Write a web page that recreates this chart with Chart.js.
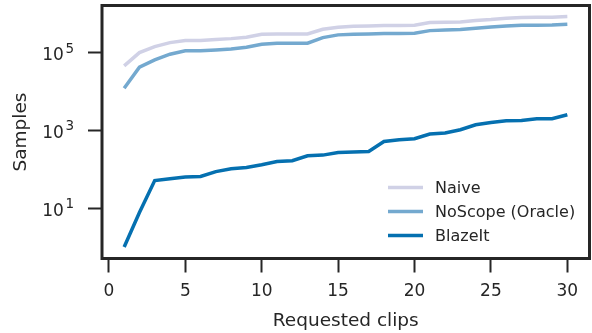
<!DOCTYPE html>
<html>
  <head>
    <title>Samples vs requested clips</title>
    <script src="https://cdn.jsdelivr.net/npm/chart.js"></script>
    <style>
      body {
        margin: 0;
        padding: 0;
        background: #ffffff;
      }
      #wrap {
        width: 592px;
        height: 333px;
      }
    </style>
  </head>
  <body>
    <div id="wrap"><canvas id="myChart"></canvas></div>
    <script>
      // values
      const clips = [1, 2, 3, 4, 5, 6, 7, 8, 9, 10, 11, 12, 13, 14, 15,
        16, 17, 18, 19, 20, 21, 22, 23, 24, 25, 26, 27, 28, 29, 30];
      const naive = [45500, 100000, 143000, 181000, 204000, 204000, 216000, 229000, 249000, 298000,
        303000, 303000, 303000, 400000, 451000, 479000, 487000, 496000, 496000, 507000,
        592000, 606000, 617000, 666000, 707000, 768000, 796000, 815000, 815000, 845000];
      const noscope = [12100, 42100, 64900, 91000, 111000, 111000, 117000, 124000, 138000, 165000,
        175000, 175000, 175000, 243000, 286000, 298000, 303000, 308000, 308000, 316000,
        368000, 384000, 391000, 425000, 459000, 487000, 507000, 507000, 516000, 538000];
      const blazeit = [1, 7.7, 51, 57, 63, 65, 87, 103, 111, 130,
        158, 165, 222, 231, 270, 276, 286, 518, 573, 608,
        803, 853, 1036, 1393, 1597, 1766, 1799, 1990, 1990, 2523];
      const seriesNames = ["Naive", "NoScope (Oracle)", "BlazeIt"];
      const xTicks = [0, 5, 10, 15, 20, 25, 30];
      const yTicks = [10, 1000, 100000];

      const ink = "#262626";
      const colors = ["#d0d1e6", "#74a9cf", "#0570b0"];
      const font = "DejaVu Sans";

      function pts(ys) {
        return clips.map((x, i) => ({ x: x, y: ys[i] }));
      }

      // frame on all four sides, 10^n tick labels, legend in lower right
      const frameAndLegend = {
        id: "frameAndLegend",
        afterDatasetsDraw(chart) {
          const { ctx, chartArea: a } = chart;
          ctx.save();
          ctx.strokeStyle = ink;
          ctx.lineWidth = 3;
          ctx.strokeRect(a.left, a.top, a.right - a.left, a.bottom - a.top);

          // y tick labels as 10 with a raised exponent
          const ys = chart.scales.y;
          ctx.fillStyle = ink;
          ctx.textBaseline = "alphabetic";
          ys.ticks.forEach((t) => {
            const py = ys.getPixelForValue(t.value);
            const e = String(Math.round(Math.log10(t.value)));
            ctx.font = "13.5px '" + font + "'";
            const ew = ctx.measureText(e).width;
            ctx.textAlign = "right";
            ctx.fillText(e, 74, py);
            ctx.font = "17px '" + font + "'";
            ctx.fillText("10", 74 - ew - 1.5, py + 7.5);
          });

          ctx.font = "16px '" + font + "'";
          ctx.textBaseline = "middle";
          ctx.textAlign = "left";
          chart.data.datasets.forEach((ds, i) => {
            const y = 187.5 + i * 24;
            ctx.strokeStyle = ds.borderColor;
            ctx.lineWidth = 3.5;
            ctx.beginPath();
            ctx.moveTo(388, y);
            ctx.lineTo(423, y);
            ctx.stroke();
            ctx.fillStyle = ink;
            ctx.fillText(ds.label, 435, y + 1);
          });
          ctx.restore();
        },
      };

      const ctx = document.getElementById("myChart").getContext("2d");
      new Chart(ctx, {
        type: "line",
        data: {
          datasets: [naive, noscope, blazeit].map((ys, i) => ({
            label: seriesNames[i],
            data: pts(ys),
            borderColor: colors[i],
            backgroundColor: colors[i],
            borderWidth: 3.5,
            pointRadius: 0,
            tension: 0,
            fill: false,
          })),
        },
        options: {
          responsive: true,
          maintainAspectRatio: false,
          animation: false,
          layout: { padding: { left: 0, top: 5.5, right: 2.5, bottom: 0 } },
          plugins: {
            legend: { display: false },
            tooltip: { enabled: false },
          },
          scales: {
            x: {
              type: "linear",
              min: -0.45,
              max: 31.45,
              afterBuildTicks: (s) => {
                s.ticks = xTicks.map((v) => ({ value: v }));
              },
              afterFit: (s) => {
                s.height = 74.5;
                s.paddingLeft = 0;
                s.paddingRight = 0;
              },
              border: { display: false },
              grid: {
                drawOnChartArea: false,
                drawTicks: true,
                tickLength: 14,
                tickWidth: 2,
                tickColor: ink,
              },
              ticks: {
                padding: 9,
                color: ink,
                font: { family: font, size: 17 },
                maxRotation: 0,
              },
              title: {
                display: true,
                text: "Requested clips",
                color: ink,
                font: { family: font, size: 18.5 },
                padding: { top: 0, bottom: 1 },
              },
            },
            y: {
              type: "logarithmic",
              min: Math.pow(10, -0.296),
              max: Math.pow(10, 6.212),
              afterBuildTicks: (s) => {
                s.ticks = yTicks.map((v) => ({ value: v, major: true }));
              },
              afterFit: (s) => {
                s.width = 102;
                s.paddingTop = 0;
                s.paddingBottom = 0;
              },
              border: { display: false },
              grid: {
                drawOnChartArea: false,
                drawTicks: true,
                tickLength: 14,
                tickWidth: 2,
                tickColor: ink,
              },
              ticks: {
                display: false,
              },
              title: {
                display: true,
                text: "Samples",
                color: ink,
                font: { family: font, size: 18.5 },
                padding: { top: 10, bottom: 0 },
              },
            },
          },
        },
        plugins: [frameAndLegend],
      });
    </script>
  </body>
</html>
